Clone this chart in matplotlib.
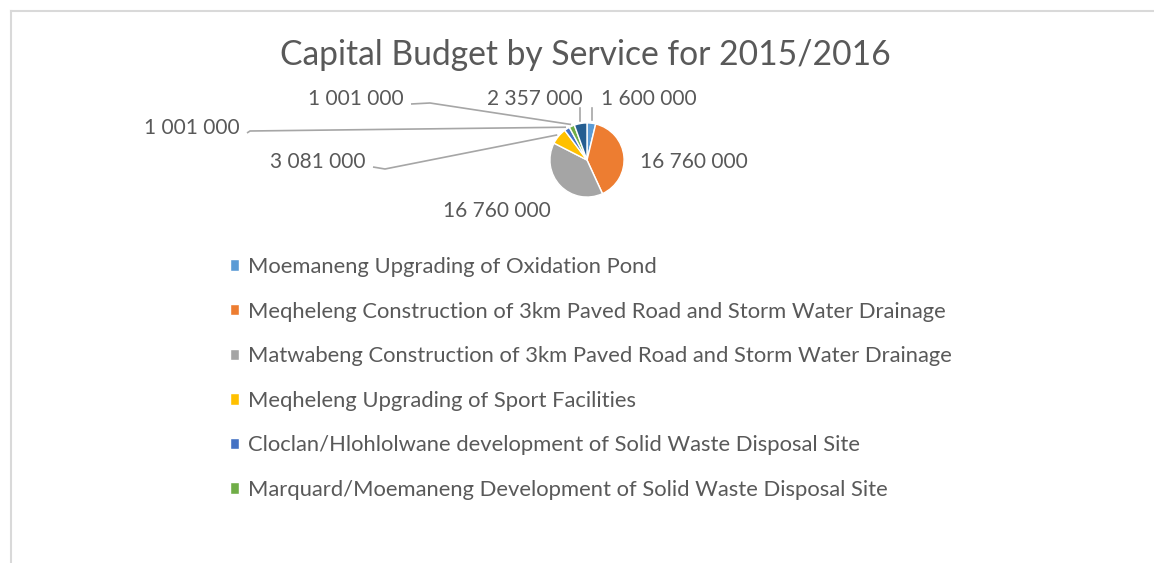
import numpy as np
import matplotlib
matplotlib.use('Agg')
import matplotlib.pyplot as plt

# capital budget 2015/2016, values in rand (clockwise from 12 o'clock)
services = ['Moemaneng Upgrading of Oxidation Pond',
            'Meqheleng Construction of 3km Paved Road and Storm Water Drainage',
            'Matwabeng Construction of 3km Paved Road and Storm Water Drainage',
            'Meqheleng Upgrading of Sport Facilities',
            'Cloclan/Hlohlolwane development of Solid Waste Disposal Site',
            'Marquard/Moemaneng Development of Solid Waste Disposal Site']
budget = [1600000, 16760000, 16760000, 3081000, 1001000, 1001000, 2357000]
colors = ['#5B9BD5', '#ED7D31', '#A5A5A5', '#FFC000', '#4472C4', '#70AD47', '#255E91']

W, H = 1154, 563
TXT = '#595959'
plt.rcParams['font.family'] = ['Lato', 'DejaVu Sans']

def fmt(v):
    return '{:,}'.format(v).replace(',', ' ')

fig = plt.figure(figsize=(W / 100, H / 100), dpi=100)
ax = fig.add_axes([0, 0, 1, 1])

cx, cy, r = 587, H - 160, 37
wedges, _ = ax.pie(budget, colors=colors, startangle=90, counterclock=False,
                   explode=[0.07] * len(budget), radius=r, center=(cx, cy),
                   wedgeprops=dict(edgecolor='white', linewidth=1.0))
ax.set_xlim(0, W)
ax.set_ylim(0, H)
ax.set_aspect('equal')
ax.axis('off')

# label text position (px from top-left), alignment, leader elbow (or None)
lab_pos = [(601, 99, 'left', None),
           (640, 162, 'left', None),
           (551, 211, 'right', None),
           (366, 162, 'right', (385, 169)),
           (240, 128, 'right', (250, 131)),
           (404, 99, 'right', (430, 103)),
           (583, 99, 'right', None)]

for w, v, (lx, ly, ha, elbow) in zip(wedges, budget, lab_pos):
    ax.text(lx, H - ly, fmt(v), ha=ha, va='center', fontsize=15, color=TXT)
    mid = np.deg2rad((w.theta1 + w.theta2) / 2)
    ex = w.center[0] + w.r * 1.05 * np.cos(mid)
    ey = w.center[1] + w.r * 1.05 * np.sin(mid)
    if elbow is not None:
        x0 = lx + 7 if ha == 'right' else lx - 7
        ax.plot([x0, elbow[0], ex], [H - ly - 5, H - elbow[1], ey],
                color='#A6A6A6', lw=1.2, solid_capstyle='butt')
    elif v < 3000000:
        ax.plot([ex, ex], [ey + 1, H - ly - 9], color='#A6A6A6', lw=1.2)

ax.text(585, H - 55, 'Capital Budget by Service for 2015/2016', ha='center',
        va='center', fontsize=24.2, color=TXT)

ax.legend(wedges[:6], services, loc='upper left', bbox_to_anchor=(219, H - 246),
          bbox_transform=ax.transData, frameon=False, fontsize=15.8,
          labelcolor=TXT, handlelength=0.42, handleheight=0.42,
          handletextpad=0.42, labelspacing=1.12, borderpad=0)

# chart frame (only top and left edges visible)
ax.plot([10.5, W], [H - 10.5, H - 10.5], color='#D9D9D9', lw=1.5)
ax.plot([10.5, 10.5], [0, H - 10.5], color='#D9D9D9', lw=1.5)

fig.savefig('out.png', dpi=100)
